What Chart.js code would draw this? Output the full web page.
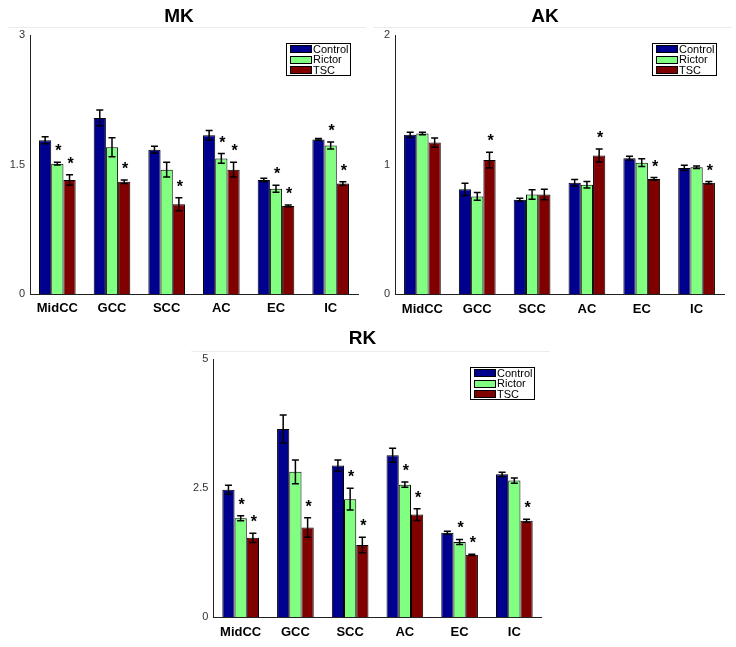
<!DOCTYPE html>
<html><head><meta charset="utf-8">
<script src="https://cdn.jsdelivr.net/npm/chart.js@4"></script>
<style>
html,body{margin:0;padding:0;background:#fff;}
body{width:736px;height:647px;position:relative;overflow:hidden;}
.box{position:absolute;}
</style></head><body>
<div class="box" style="left:0;top:0;width:368px;height:320px"><canvas id="mk"></canvas></div>
<div class="box" style="left:366px;top:0;width:370px;height:320px"><canvas id="ak"></canvas></div>
<div class="box" style="left:0;top:320px;width:736px;height:327px"><canvas id="rk"></canvas></div>
<script>
const categories = ['MidCC','GCC','SCC','AC','EC','IC'];
const seriesNames = ['Control','Rictor','TSC'];

// MK
const mkControl    = [1.78, 2.04, 1.67, 1.84, 1.32, 1.79];
const mkRictor     = [1.51, 1.70, 1.44, 1.57, 1.22, 1.72];
const mkTSC        = [1.32, 1.30, 1.04, 1.44, 1.02, 1.28];
const mkControlErr = [0.04, 0.09, 0.04, 0.055, 0.02, 0.01];
const mkRictorErr  = [0.015, 0.11, 0.085, 0.056, 0.04, 0.04];
const mkTSCErr     = [0.06, 0.02, 0.076, 0.085, 0.01, 0.02];
const mkRictorSig  = [1, 0, 0, 1, 1, 1];
const mkTSCSig     = [1, 1, 1, 1, 1, 1];
const mkTicks      = [0, 1.5, 3];

// AK
const akControl    = [1.23, 0.81, 0.73, 0.86, 1.05, 0.975];
const akRictor     = [1.24, 0.755, 0.77, 0.845, 1.015, 0.98];
const akTSC        = [1.17, 1.035, 0.77, 1.07, 0.89, 0.86];
const akControlErr = [0.02, 0.047, 0.01, 0.025, 0.015, 0.02];
const akRictorErr  = [0.01, 0.03, 0.036, 0.025, 0.03, 0.01];
const akTSCErr     = [0.035, 0.06, 0.04, 0.05, 0.01, 0.01];
const akRictorSig  = [0, 0, 0, 0, 0, 0];
const akTSCSig     = [0, 1, 0, 1, 1, 1];
const akTicks      = [0, 1, 2];

// RK
const rkControl    = [2.47, 3.65, 2.94, 3.14, 1.64, 2.77];
const rkRictor     = [1.92, 2.82, 2.29, 2.57, 1.46, 2.65];
const rkTSC        = [1.54, 1.74, 1.40, 1.99, 1.21, 1.87];
const rkControlErr = [0.087, 0.27, 0.11, 0.135, 0.03, 0.04];
const rkRictorErr  = [0.05, 0.23, 0.21, 0.05, 0.05, 0.05];
const rkTSCErr     = [0.09, 0.19, 0.15, 0.116, 0.01, 0.03];
const rkRictorSig  = [1, 0, 1, 1, 1, 0];
const rkTSCSig     = [1, 1, 1, 1, 1, 1];
const rkTicks      = [0, 2.5, 5];

const seriesColors = ['rgb(0,0,143)', 'rgb(128,255,128)', 'rgb(128,0,0)'];
const FONT = '"Liberation Sans", Arial, Helvetica, sans-serif';

const errStarPlugin = {
  id: 'errStar',
  afterDatasetsDraw(chart) {
    const ctx = chart.ctx, ys = chart.scales.y;
    chart.data.datasets.forEach((ds, di) => {
      const meta = chart.getDatasetMeta(di);
      meta.data.forEach((bar, i) => {
        const v = ds.data[i], e = ds.errors[i];
        const yTop = ys.getPixelForValue(v + e), yBot = ys.getPixelForValue(v - e);
        ctx.save();
        ctx.strokeStyle = '#000'; ctx.lineWidth = 1.5;
        ctx.beginPath();
        ctx.moveTo(bar.x, yTop); ctx.lineTo(bar.x, yBot);
        ctx.moveTo(bar.x - 3.5, yTop); ctx.lineTo(bar.x + 3.5, yTop);
        ctx.moveTo(bar.x - 3.5, yBot); ctx.lineTo(bar.x + 3.5, yBot);
        ctx.stroke();
        if (ds.sig[i]) {
          ctx.fillStyle = '#000';
          ctx.font = 'bold 16px ' + FONT;
          ctx.textAlign = 'center'; ctx.textBaseline = 'alphabetic';
          ctx.fillText('*', bar.x + 1, yTop - 6);
        }
        ctx.restore();
      });
    });
  }
};

const boxLegendPlugin = {
  id: 'boxLegend',
  afterDraw(chart) {
    const ctx = chart.ctx, a = chart.chartArea;
    const w = 64, h = 32;
    const x0 = Math.round(a.right - 8 - w), y0 = Math.round(a.top + 7.5);
    ctx.save();
    // faint top line
    ctx.strokeStyle = '#ececec'; ctx.lineWidth = 1;
    ctx.beginPath(); ctx.moveTo(a.left - 22, Math.round(a.top - 8) + 0.5); ctx.lineTo(a.right + 8, Math.round(a.top - 8) + 0.5); ctx.stroke();
    ctx.fillStyle = '#fff'; ctx.fillRect(x0, y0, w, h);
    ctx.strokeStyle = '#000'; ctx.lineWidth = 1;
    ctx.strokeRect(x0 + 0.5, y0 + 0.5, w, h);
    chart.data.datasets.forEach((ds, i) => {
      const cy = y0 + 6 + i * 10.5;
      ctx.fillStyle = ds.backgroundColor;
      ctx.fillRect(x0 + 4, Math.round(cy - 4), 21, 8);
      ctx.strokeStyle = '#000';
      ctx.strokeRect(x0 + 4.5, Math.round(cy - 4) + 0.5, 21, 7);
      ctx.fillStyle = '#000';
      ctx.font = '11px ' + FONT;
      ctx.textAlign = 'left'; ctx.textBaseline = 'middle';
      ctx.fillText(ds.label, x0 + 27, cy + 0.5);
    });
    ctx.restore();
  }
};

function makeChart(id, title, vals, errs, sigs, ticks, lay) {
  const datasets = seriesNames.map((name, k) => ({
    label: name,
    data: vals[k],
    errors: errs[k],
    sig: sigs[k],
    backgroundColor: seriesColors[k],
    borderColor: '#000',
    borderWidth: 1,
    categoryPercentage: 0.67,
    barPercentage: 1.0
  }));
  return new Chart(document.getElementById(id), {
    type: 'bar',
    data: { labels: categories, datasets },
    plugins: [errStarPlugin, boxLegendPlugin],
    options: {
      responsive: true,
      maintainAspectRatio: false,
      animation: false,
      layout: { padding: { left: lay.padLeft, right: lay.padRight, top: 0, bottom: 0 } },
      plugins: {
        legend: { display: false },
        tooltip: { enabled: false },
        title: {
          display: true, text: title, color: '#000',
          font: { family: FONT, size: 19, weight: 'bold', lineHeight: 1.2 },
          padding: { top: lay.titleTop, bottom: lay.titleBottom }
        }
      },
      scales: {
        x: {
          grid: { display: false, drawTicks: false },
          border: { display: true, color: '#222', width: 1 },
          ticks: { color: '#000', font: { family: FONT, size: 13, weight: 'bold' }, padding: 7, maxRotation: 0 },
          afterFit: s => { s.height = lay.xh; }
        },
        y: {
          min: ticks[0], max: ticks[ticks.length - 1],
          afterBuildTicks: s => { s.ticks = ticks.map(v => ({ value: v })); },
          grid: { display: false, drawTicks: false },
          border: { display: true, color: '#222', width: 1 },
          ticks: { color: '#333', font: { family: FONT, size: 11 }, padding: 5, callback: v => String(v) },
          afterFit: s => { s.width = lay.yw; }
        }
      }
    }
  });
}

makeChart('mk', 'MK', [mkControl, mkRictor, mkTSC], [mkControlErr, mkRictorErr, mkTSCErr],
  [[0,0,0,0,0,0], mkRictorSig, mkTSCSig], mkTicks,
  { padLeft: 0, padRight: 10, yw: 30, xh: 26, titleTop: 5, titleBottom: 7.2 });
makeChart('ak', 'AK', [akControl, akRictor, akTSC], [akControlErr, akRictorErr, akTSCErr],
  [[0,0,0,0,0,0], akRictorSig, akTSCSig], akTicks,
  { padLeft: 0, padRight: 12, yw: 29, xh: 25.7, titleTop: 5, titleBottom: 7.2 });
makeChart('rk', 'RK', [rkControl, rkRictor, rkTSC], [rkControlErr, rkRictorErr, rkTSCErr],
  [[0,0,0,0,0,0], rkRictorSig, rkTSCSig], rkTicks,
  { padLeft: 183.3, padRight: 194.3, yw: 30, xh: 29.7, titleTop: 7, titleBottom: 9.5 });
</script>
</body></html>
